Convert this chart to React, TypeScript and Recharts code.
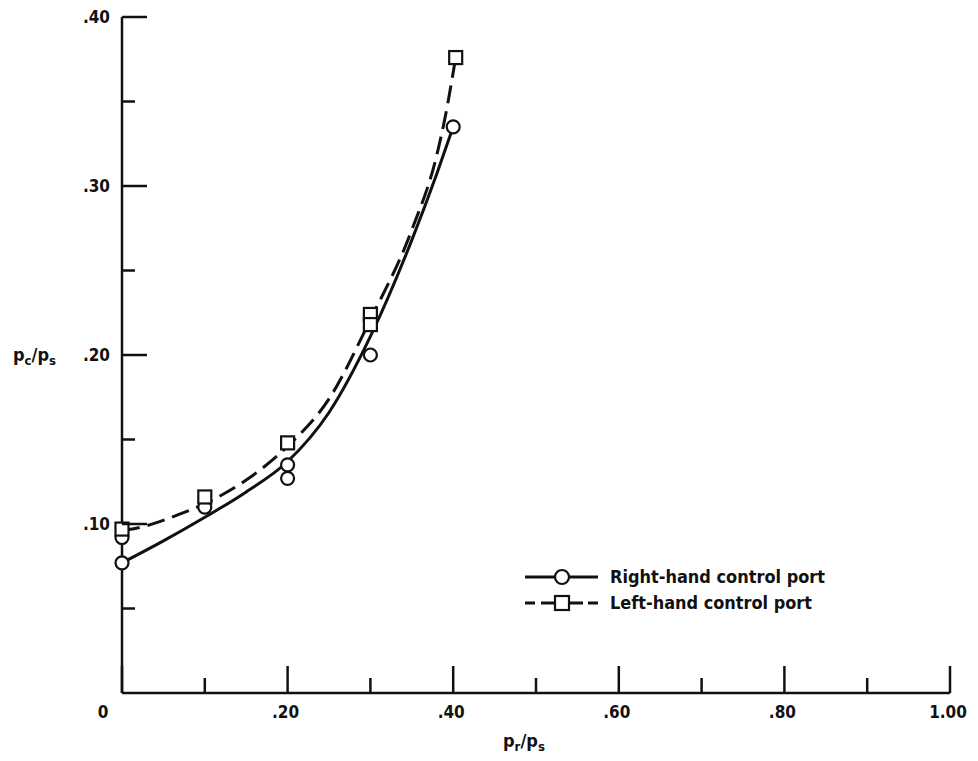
import React from "react";
import { ComposedChart, Line, Scatter, XAxis, YAxis } from "recharts";

// ---- data ----
const SOLID_X = [0, 0.05, 0.1, 0.15, 0.2, 0.25, 0.3, 0.35, 0.38, 0.4];
const SOLID_Y = [0.077, 0.09, 0.104, 0.119, 0.137, 0.166, 0.211, 0.268, 0.307, 0.335];

const DASHED_X = [0, 0.03, 0.06, 0.1, 0.15, 0.2, 0.25, 0.3, 0.35, 0.38, 0.39, 0.403];
const DASHED_Y = [0.096, 0.099, 0.104, 0.112, 0.126, 0.146, 0.174, 0.221, 0.274, 0.318, 0.34, 0.376];

const RIGHT_PTS_X = [0, 0, 0.1, 0.2, 0.2, 0.3, 0.4];
const RIGHT_PTS_Y = [0.077, 0.092, 0.11, 0.135, 0.127, 0.2, 0.335];

const LEFT_PTS_X = [0, 0.1, 0.2, 0.3, 0.3, 0.403];
const LEFT_PTS_Y = [0.097, 0.116, 0.148, 0.224, 0.218, 0.376];

const X_TICKS = [0, 0.1, 0.2, 0.3, 0.4, 0.5, 0.6, 0.7, 0.8, 0.9, 1.0];
const X_LABELS = ["0", "", ".20", "", ".40", "", ".60", "", ".80", "", "1.00"];
const Y_TICKS = [0.05, 0.1, 0.15, 0.2, 0.25, 0.3, 0.35, 0.4];
const Y_LABELS = ["", ".10", "", ".20", "", ".30", "", ".40"];

const INK = "#111";
const FONT = "'Liberation Sans Narrow', 'DejaVu Sans Condensed', 'Liberation Sans', sans-serif";

const zip = (xs: number[], ys: number[]) => xs.map((x, i) => ({ x, y: ys[i] }));

const solidData = zip(SOLID_X, SOLID_Y);
const dashedData = zip(DASHED_X, DASHED_Y);
const rightPts = zip(RIGHT_PTS_X, RIGHT_PTS_Y);
const leftPts = zip(LEFT_PTS_X, LEFT_PTS_Y);

const Circle = (p: any) => (
  <circle cx={p.cx} cy={p.cy} r={6.5} fill="#fff" stroke={INK} strokeWidth={2.2} />
);
const Square = (p: any) => (
  <rect x={p.cx - 6.5} y={p.cy - 6.5} width={13} height={13} fill="#fff" stroke={INK} strokeWidth={2.2} />
);

// ticks point inward, like the original
const XTick = (props: any) => {
  const { x, y, payload, index } = props;
  const major = index % 2 === 0;
  const label = X_LABELS[index];
  return (
    <g>
      <line x1={x} y1={y} x2={x} y2={y - (major ? 27 : 15)} stroke={INK} strokeWidth={2.5} />
      {label && (
        <text
          x={payload.value === 0 ? x - 19 : x - 2}
          y={y + 25}
          textAnchor="middle"
          fontFamily={FONT}
          fontWeight="bold"
          fontSize={17}
          fill={INK}
        >
          {label}
        </text>
      )}
    </g>
  );
};

const YTick = (props: any) => {
  const { x, y, index } = props;
  const major = index % 2 === 1;
  const label = Y_LABELS[index];
  return (
    <g>
      <line x1={x} y1={y} x2={x + (major ? 25 : 13)} y2={y} stroke={INK} strokeWidth={2.5} />
      {label && (
        <text x={x - 12} y={y + 6} textAnchor="end" fontFamily={FONT} fontWeight="bold" fontSize={17} fill={INK}>
          {label}
        </text>
      )}
    </g>
  );
};

export default function App() {
  return (
    <div style={{ position: "absolute", left: 0, top: 0, width: 978, height: 761, background: "#fff" }}>
      <ComposedChart width={978} height={761} margin={{ top: 17, right: 28, bottom: 0, left: 0 }}>
        <XAxis
          type="number"
          dataKey="x"
          domain={[0, 1]}
          ticks={X_TICKS}
          interval={0}
          height={68}
          tickSize={0}
          tickMargin={0}
          tick={<XTick />}
          axisLine={{ stroke: INK, strokeWidth: 2.5 }}
          allowDuplicatedCategory={false}
        />
        <YAxis
          type="number"
          dataKey="y"
          domain={[0, 0.4]}
          ticks={Y_TICKS}
          interval={0}
          width={122}
          tickSize={0}
          tickMargin={0}
          tick={<YTick />}
          axisLine={{ stroke: INK, strokeWidth: 2.5 }}
        />
        <Line data={solidData} dataKey="y" type="monotone" stroke={INK} strokeWidth={3} dot={false} isAnimationActive={false} />
        <Line data={dashedData} dataKey="y" type="monotone" stroke={INK} strokeWidth={3} strokeDasharray="18 8" dot={false} isAnimationActive={false} />
        <Scatter data={rightPts} dataKey="y" shape={Circle} isAnimationActive={false} />
        <Scatter data={leftPts} dataKey="y" shape={Square} isAnimationActive={false} />
      </ComposedChart>

      {/* axis titles + legend */}
      <svg width={978} height={761} style={{ position: "absolute", left: 0, top: 0, pointerEvents: "none" }}>
        <g fontFamily={FONT} fontWeight="bold" fill={INK}>
          <text x={13} y={361} fontSize={18}>
            p<tspan fontSize={13} dy={4}>c</tspan>
            <tspan dy={-4}>/p</tspan>
            <tspan fontSize={13} dy={4}>s</tspan>
          </text>
          <text x={503} y={747} fontSize={18}>
            p<tspan fontSize={13} dy={4}>r</tspan>
            <tspan dy={-4}>/p</tspan>
            <tspan fontSize={13} dy={4}>s</tspan>
          </text>
        </g>

        <line x1={525} y1={577} x2={598} y2={577} stroke={INK} strokeWidth={3} />
        <circle cx={562} cy={577} r={7} fill="#fff" stroke={INK} strokeWidth={2.2} />
        <text x={610} y={583} fontFamily={FONT} fontWeight="bold" fontSize={17} fill={INK} textLength={215} lengthAdjust="spacingAndGlyphs">
          Right-hand control port
        </text>

        <line x1={525} y1={603} x2={535} y2={603} stroke={INK} strokeWidth={3} />
        <line x1={541} y1={603} x2={583} y2={603} stroke={INK} strokeWidth={3} />
        <line x1={588} y1={603} x2={598} y2={603} stroke={INK} strokeWidth={3} />
        <rect x={555} y={596} width={14} height={14} fill="#fff" stroke={INK} strokeWidth={2.2} />
        <text x={610} y={609} fontFamily={FONT} fontWeight="bold" fontSize={17} fill={INK} textLength={202} lengthAdjust="spacingAndGlyphs">
          Left-hand control port
        </text>
      </svg>
    </div>
  );
}
